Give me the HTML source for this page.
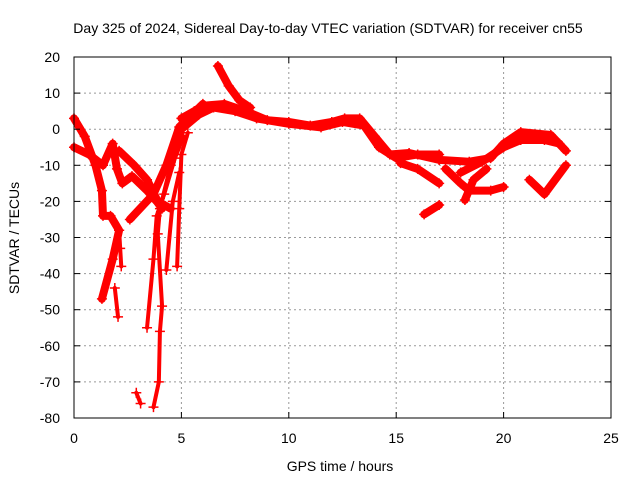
<!DOCTYPE html>
<html><head><meta charset="utf-8"><style>
body{margin:0;background:#fff;font-family:"Liberation Sans",sans-serif}
</style></head><body>
<svg id="chart" width="640" height="480" xmlns="http://www.w3.org/2000/svg" font-family="Liberation Sans, sans-serif" font-size="14">
<rect width="640" height="480" fill="#fff"/>
<text x="328" y="33" text-anchor="middle">Day 325 of 2024, Sidereal Day-to-day VTEC variation (SDTVAR) for receiver cn55</text>
<text x="340" y="471" text-anchor="middle">GPS time / hours</text>
<text transform="translate(19,238) rotate(-90)" text-anchor="middle">SDTVAR / TECUs</text>
<g id="grid"></g><g id="marks"></g><g id="axes"></g>
</svg>
<script>
const xTicks=[0,5,10,15,20,25];
const yTicks=[20,10,0,-10,-20,-30,-40,-50,-60,-70,-80];
const trackA=[[0,3],[0.5,-2],[1,-10],[1.3,-17],[1.35,-24],[1.7,-24],[2.1,-28],[1.8,-36],[1.3,-47]];
const trackB=[[2.1,-28],[2.15,-33],[2.2,-38]];
const trackC=[[0,-5],[0.7,-7],[1.35,-10],[1.8,-4],[2,-11],[2.25,-15],[2.7,-13],[3.4,-17],[3.85,-20],[4.1,-22]];
const trackD=[[2.1,-6],[2.8,-10],[3.4,-14],[3.9,-20],[4.5,-22]];
const trackE=[[2.6,-25],[3.7,-18],[4.3,-10],[4.9,0.6],[6,7]];
const trackF=[[3.7,-77],[3.95,-70],[4,-56],[4.1,-49],[3.9,-29],[4,-22],[4.5,-10],[5.2,2],[6.3,6]];
const trackG=[[3.4,-55],[3.7,-36],[3.85,-24],[4.2,-18],[4.7,-8],[5.1,-2]];
const trackH=[[4.8,-38],[4.9,-22],[5,-7],[5.3,-1]];
const trackI=[[4.3,-39],[4.6,-20],[4.9,-12]];
const trackJ=[[2.9,-73],[3.1,-76]];
const trackK=[[1.9,-44],[2.05,-52]];
const trackL=[[5,3],[5.6,5],[6,6.5],[7,7],[8,5],[9,2.5],[10,2],[11,1],[12,2],[12.6,3],[13.3,3],[14,-2],[14.7,-7],[15.6,-6.6],[17,-8.5]];
const trackM=[[6.7,17.5],[7.2,12],[7.7,8],[8.2,6]];
const trackN=[[15.2,-9.4],[16,-11],[17,-15]];
const trackO=[[16.3,-23.6],[17,-21]];
const trackP=[[17,-8.5],[18.4,-9],[19.4,-8],[20,-4],[20.8,-0.8],[22.2,-1.6],[22.9,-6]];
const trackQ=[[18,-12],[19,-9],[20,-5],[20.8,-3],[21.9,-3],[22.6,-4]];
const trackR=[[17.3,-11],[18,-15],[18.4,-17],[19.4,-17],[20,-16]];
const trackS=[[18.2,-19.6],[18.6,-14],[19.2,-11]];
const trackT=[[21.2,-14],[21.9,-18],[22.9,-10]];
const trackU=[[5,0],[5.8,4],[6.5,6],[7.5,5],[8.5,3],[10,1.5],[11.5,0.5],[12.5,2],[13.5,1],[14.2,-5],[15,-8],[16,-7],[17,-7]];
const tracks=[trackA,trackB,trackC,trackD,trackE,trackF,trackG,trackH,trackI,trackJ,trackK,trackL,trackM,trackN,trackO,trackP,trackQ,trackR,trackS,trackT,trackU];
const sparse=[1,5,6,7,8,9,10];
const L=74,R=611,T=57,B=418;
const xs=v=>L+(v-0)/25*(R-L);
const ys=v=>T+(20-v)/100*(B-T);
const NS="http://www.w3.org/2000/svg";
function mk(tag,attrs,parent){const e=document.createElementNS(NS,tag);for(const k in attrs)e.setAttribute(k,attrs[k]);parent.appendChild(e);return e;}
const grid=document.getElementById('grid'),axes=document.getElementById('axes'),marks=document.getElementById('marks');
xTicks.forEach(t=>{const x=xs(t);
 if(t>0&&t<25){const g=mk('line',{x1:x,x2:x,y1:T,y2:B,stroke:'#999','stroke-dasharray':'2,3'},grid);}
 mk('line',{x1:x,x2:x,y1:B,y2:B-6,stroke:'#000'},axes);mk('line',{x1:x,x2:x,y1:T,y2:T+6,stroke:'#000'},axes);
 const tx=mk('text',{x:x,y:B+25,'text-anchor':'middle'},axes);tx.textContent=t;
 });
yTicks.forEach(t=>{const y=ys(t);
 if(t<20&&t>-80){const g=mk('line',{x1:L,x2:R,y1:y,y2:y,stroke:'#999','stroke-dasharray':'2,3'},grid);}
 mk('line',{x1:L,x2:L+6,y1:y,y2:y,stroke:'#000'},axes);mk('line',{x1:R,x2:R-6,y1:y,y2:y,stroke:'#000'},axes);
 const tx=mk('text',{x:L-14,y:y+5,'text-anchor':'end'},axes);tx.textContent=t;
 });
const fr=mk('rect',{x:L,y:T,width:R-L,height:B-T,fill:'none',stroke:'#000'},axes);

tracks.forEach((tr,i)=>{
 const sp=sparse.includes(i);
 const g=mk('g',{},marks);
 
 
 mk('polyline',{points:tr.map(p=>xs(p[0])+','+ys(p[1])).join(' '),fill:'none',stroke:'#f00','stroke-width':sp?4:8,'stroke-linejoin':'round','stroke-linecap':'round'},g);
 tr.forEach(p=>{const x=xs(p[0]),y=ys(p[1]);
  const m=mk('path',{d:`M${x-5},${y}h10M${x},${y-5}v10`,stroke:'#f00','stroke-width':1.5},g);
  });
});
</script>
</body></html>
